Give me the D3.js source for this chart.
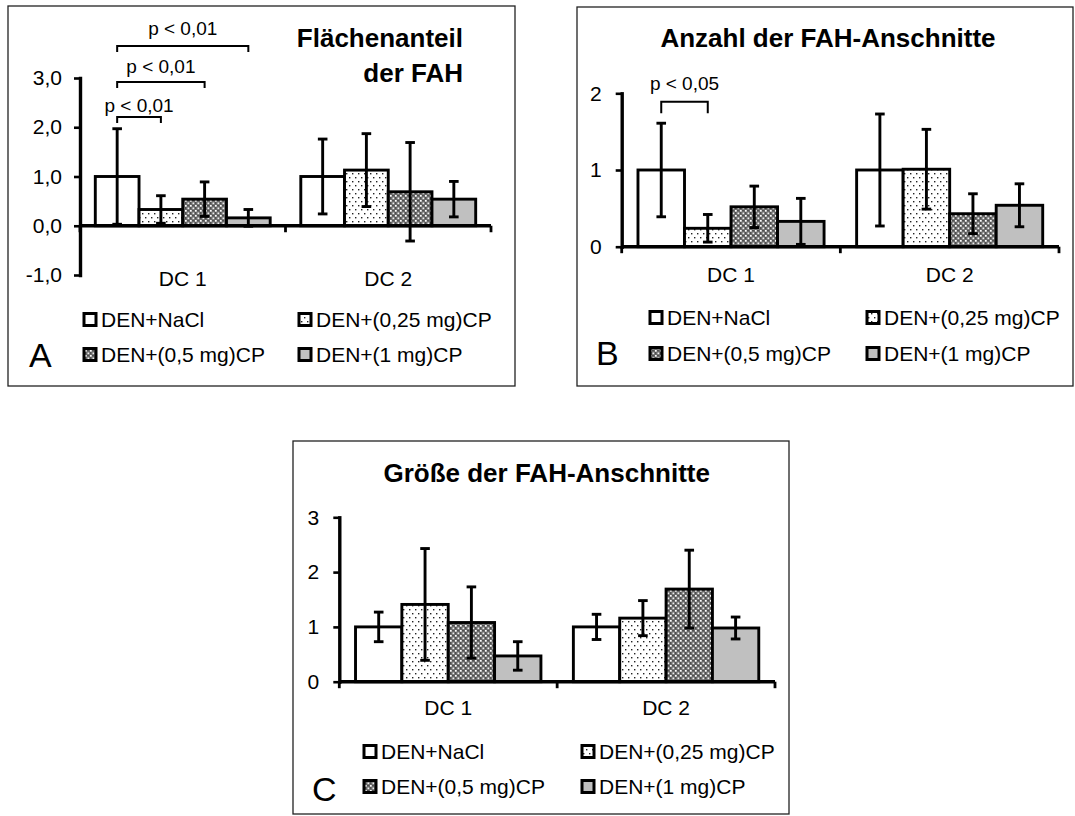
<!DOCTYPE html>
<html><head><meta charset="utf-8">
<script src="https://cdn.jsdelivr.net/npm/d3@7"></script>
<style>
body{margin:0;background:#fff}
svg{display:block}
text{font-family:"Liberation Sans",Arial,Helvetica,sans-serif;fill:#000}
</style>
</head><body>
<svg id="chart" width="1075" height="816"></svg>
<script>
// ---------- data ----------
const categories = ["DC 1", "DC 2"];
const groups = ["DEN+NaCl", "DEN+(0,25 mg)CP", "DEN+(0,5 mg)CP", "DEN+(1 mg)CP"];

// Panel A: Flächenanteil der FAH
const areaTicks = [-1, 0, 1, 2, 3];
const areaDC1 = [1.00, 0.33, 0.54, 0.16];
const areaDC1Err = [0.97, 0.28, 0.35, 0.17];
const areaDC2 = [1.00, 1.13, 0.69, 0.54];
const areaDC2Err = [0.76, 0.74, 1.00, 0.36];
const areaSigLabels = ["p < 0,01", "p < 0,01", "p < 0,01"];
const areaSigPairs = [[0, 1], [0, 2], [0, 3]];

// Panel B: Anzahl der FAH-Anschnitte
const countTicks = [0, 1, 2];
const countDC1 = [1.00, 0.24, 0.52, 0.33];
const countDC1Err = [0.61, 0.18, 0.27, 0.30];
const countDC2 = [1.00, 1.01, 0.43, 0.54];
const countDC2Err = [0.73, 0.52, 0.26, 0.28];
const countSigLabels = ["p < 0,05"];
const countSigPairs = [[0, 1]];

// Panel C: Größe der FAH-Anschnitte
const sizeTicks = [0, 1, 2, 3];
const sizeDC1 = [1.00, 1.41, 1.08, 0.47];
const sizeDC1Err = [0.27, 1.02, 0.65, 0.26];
const sizeDC2 = [1.00, 1.16, 1.69, 0.98];
const sizeDC2Err = [0.23, 0.32, 0.71, 0.20];

// ---------- drawing ----------
const svg = d3.select("#chart");
const defs = svg.append("defs");

const pDots = defs.append("pattern").attr("id", "dots")
  .attr("patternUnits", "userSpaceOnUse").attr("width", 6).attr("height", 8);
pDots.append("rect").attr("width", 6).attr("height", 8).attr("fill", "#fff");
pDots.append("rect").attr("x", 1).attr("y", 1).attr("width", 1.4).attr("height", 1.4).attr("fill", "#222");
pDots.append("rect").attr("x", 4).attr("y", 5).attr("width", 1.4).attr("height", 1.4).attr("fill", "#222");

const pCheck = defs.append("pattern").attr("id", "check")
  .attr("patternUnits", "userSpaceOnUse").attr("width", 5).attr("height", 5);
pCheck.append("rect").attr("width", 5).attr("height", 5).attr("fill", "#6a6a6a");
pCheck.append("rect").attr("x", 0).attr("y", 0).attr("width", 1.7).attr("height", 1.7).attr("fill", "#fff");
pCheck.append("rect").attr("x", 2.5).attr("y", 2.5).attr("width", 1.7).attr("height", 1.7).attr("fill", "#eee");
pCheck.append("rect").attr("x", 2.5).attr("y", 0).attr("width", 1).attr("height", 1).attr("fill", "#333");
pCheck.append("rect").attr("x", 0).attr("y", 2.5).attr("width", 1).attr("height", 1).attr("fill", "#333");

const fills = ["#ffffff", "url(#dots)", "url(#check)", "#c0c0c0"];

function drawPanel(cfg) {
  const g = svg.append("g");
  g.append("rect")
    .attr("x", cfg.box[0]).attr("y", cfg.box[1])
    .attr("width", cfg.box[2] - cfg.box[0]).attr("height", cfg.box[3] - cfg.box[1])
    .attr("fill", "#fff").attr("stroke", "#222").attr("stroke-width", 1.3);

  const y = d3.scaleLinear().domain(cfg.domain).range(cfg.yRange);
  const x0 = d3.scaleBand().domain(categories).range(cfg.xRange).paddingInner(0).paddingOuter(0);
  const x1 = d3.scaleBand().domain(groups).range([0, x0.bandwidth()]).paddingInner(0).paddingOuter(0.35);

  const rows = [];
  categories.forEach((c, ci) => {
    groups.forEach((s, si) => {
      rows.push({c, s, si, v: cfg.values[ci][si], e: cfg.errs[ci][si]});
    });
  });

  // bars
  g.append("g").selectAll("rect").data(rows).join("rect")
    .attr("x", d => x0(d.c) + x1(d.s))
    .attr("y", d => y(Math.max(0, d.v)))
    .attr("width", x1.bandwidth())
    .attr("height", d => Math.abs(y(d.v) - y(0)))
    .attr("fill", d => fills[d.si])
    .attr("stroke", "#000").attr("stroke-width", 2.9);

  // y axis
  const ya = g.append("g")
    .attr("transform", `translate(${cfg.xRange[0]},0)`)
    .call(d3.axisLeft(y).tickValues(cfg.ticks).tickSize(6).tickSizeOuter(0)
      .tickPadding(cfg.tickPad).tickFormat(cfg.fmt));
  ya.select(".domain").attr("stroke", "#000").attr("stroke-width", 3.4).attr("stroke-linecap", "square");
  ya.selectAll(".tick line").attr("stroke", "#000").attr("stroke-width", 2.6);
  ya.selectAll(".tick text").style("font-size", "21px").style("font-family", '"Liberation Sans",Arial,sans-serif').attr("fill", "#000");

  // x axis
  const y0 = y(0);
  g.append("line")
    .attr("x1", cfg.xRange[0]).attr("x2", cfg.xRange[1])
    .attr("y1", y0).attr("y2", y0)
    .attr("stroke", "#000").attr("stroke-width", 3.4);
  const bounds = [x0(categories[0]), x0(categories[1]), x0(categories[1]) + x0.bandwidth()];
  g.append("g").selectAll("line").data(bounds).join("line")
    .attr("x1", d => d).attr("x2", d => d)
    .attr("y1", y0).attr("y2", y0 + 6.5)
    .attr("stroke", "#000").attr("stroke-width", 2.8);

  // category labels
  g.append("g").selectAll("text").data(categories).join("text")
    .attr("x", d => x0(d) + x0.bandwidth() / 2)
    .attr("y", cfg.catY)
    .attr("text-anchor", "middle")
    .style("font-size", "21px")
    .text(d => d);

  // error bars
  const eg = g.append("g").attr("stroke", "#000").attr("stroke-width", 2.9);
  rows.forEach(d => {
    const cx = x0(d.c) + x1(d.s) + x1.bandwidth() / 2;
    const yt = y(d.v + d.e), yb = y(d.v - d.e);
    eg.append("line").attr("x1", cx).attr("x2", cx).attr("y1", yt).attr("y2", yb);
    eg.append("line").attr("x1", cx - 4.8).attr("x2", cx + 4.8).attr("y1", yt).attr("y2", yt);
    eg.append("line").attr("x1", cx - 4.8).attr("x2", cx + 4.8).attr("y1", yb).attr("y2", yb);
  });

  // significance brackets
  (cfg.sigPairs || []).forEach((p, i) => {
    const xa = x0(categories[0]) + x1(groups[p[0]]) + x1.bandwidth() / 2;
    const xb = x0(categories[0]) + x1(groups[p[1]]) + x1.bandwidth() / 2;
    const by = cfg.sigY[i];
    g.append("path")
      .attr("d", `M${xa},${by + cfg.sigDrop}V${by}H${xb}V${by + cfg.sigDrop}`)
      .attr("fill", "none").attr("stroke", "#000").attr("stroke-width", 2);
    g.append("text")
      .attr("x", (xa + xb) / 2).attr("y", cfg.sigTextY[i])
      .attr("text-anchor", "middle")
      .style("font-size", "19px")
      .text(cfg.sigLabels[i]);
  });

  // title
  const t = g.append("text")
    .attr("x", cfg.titleX).attr("y", cfg.titleY)
    .attr("text-anchor", cfg.titleAnchor)
    .style("font-size", "26px").style("font-weight", "bold");
  cfg.title.forEach((line, i) => {
    t.append("tspan").attr("x", cfg.titleX).attr("dy", i === 0 ? 0 : 35).text(line);
  });

  // legend
  groups.forEach((s, i) => {
    const col = i % 2, row = Math.floor(i / 2);
    const lx = cfg.legX[col], ly = cfg.legY[row];
    g.append("rect")
      .attr("x", lx).attr("y", ly - 13.5)
      .attr("width", 12).attr("height", 12)
      .attr("fill", fills[i]).attr("stroke", "#000").attr("stroke-width", 3);
    g.append("text")
      .attr("x", lx + 17).attr("y", ly)
      .style("font-size", "21px")
      .text(s);
  });

  // panel letter
  g.append("text")
    .attr("x", cfg.letterPos[0]).attr("y", cfg.letterPos[1])
    .style("font-size", "34px")
    .text(cfg.letter);
}

drawPanel({
  box: [8, 6, 515, 386],
  domain: [-1, 3], yRange: [275, 78], xRange: [80, 491],
  ticks: areaTicks, fmt: d => (d < 0 ? "-" : "") + Math.abs(d).toFixed(1).replace(".", ","), tickPad: 12,
  values: [areaDC1, areaDC2], errs: [areaDC1Err, areaDC2Err],
  catY: 286,
  sigPairs: areaSigPairs, sigLabels: areaSigLabels,
  sigY: [117, 82, 46], sigTextY: [111.5, 72.5, 35], sigDrop: 6,
  title: ["Flächenanteil", "der FAH"], titleX: 463, titleY: 47, titleAnchor: "end",
  legX: [84, 299], legY: [327, 362],
  letter: "A", letterPos: [29, 367]
});

drawPanel({
  box: [577, 7, 1073, 386],
  domain: [0, 2], yRange: [246.7, 93.3], xRange: [621.7, 1059],
  ticks: countTicks, fmt: d3.format("d"), tickPad: 14,
  values: [countDC1, countDC2], errs: [countDC1Err, countDC2Err],
  catY: 282,
  sigPairs: countSigPairs, sigLabels: countSigLabels,
  sigY: [101.7], sigTextY: [90], sigDrop: 11.6,
  title: ["Anzahl der FAH-Anschnitte"], titleX: 828, titleY: 46.7, titleAnchor: "middle",
  legX: [650, 867], legY: [325, 361],
  letter: "B", letterPos: [596, 365]
});

drawPanel({
  box: [293, 441, 789, 814],
  domain: [0, 3], yRange: [681.7, 517.3], xRange: [339.3, 775],
  ticks: sizeTicks, fmt: d3.format("d"), tickPad: 14,
  values: [sizeDC1, sizeDC2], errs: [sizeDC1Err, sizeDC2Err],
  catY: 715,
  title: ["Größe der FAH-Anschnitte"], titleX: 546.7, titleY: 481.7, titleAnchor: "middle",
  legX: [364, 582], legY: [759, 794],
  letter: "C", letterPos: [312, 801]
});
</script>
</body></html>
